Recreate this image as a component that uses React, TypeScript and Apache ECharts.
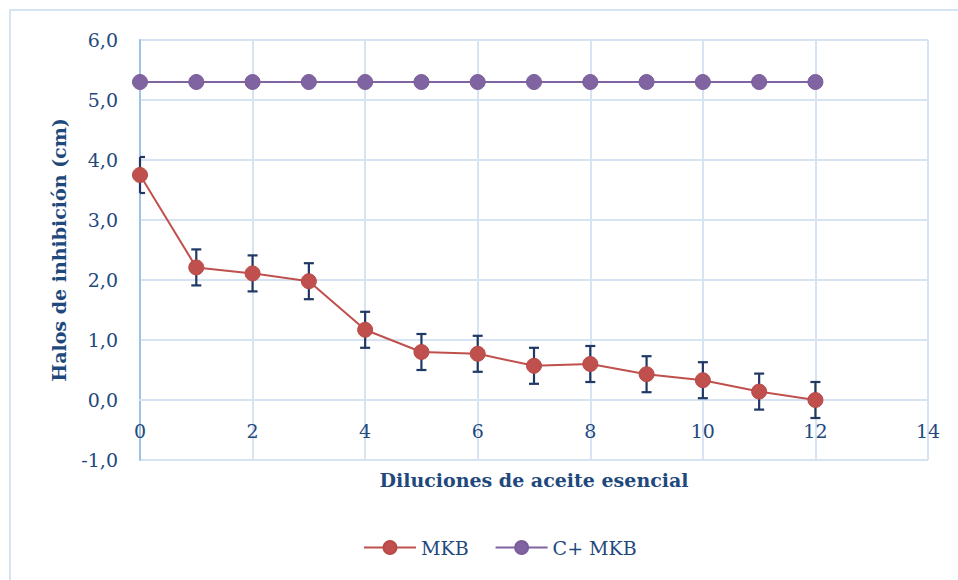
import React, { useEffect, useRef } from "react";
import * as echarts from "echarts";

const dilutions = [0, 1, 2, 3, 4, 5, 6, 7, 8, 9, 10, 11, 12];
const mkbValues = [3.75, 2.21, 2.11, 1.98, 1.17, 0.8, 0.77, 0.57, 0.6, 0.43, 0.33, 0.14, 0.0];
const mkbErrors = [0.3, 0.3, 0.3, 0.3, 0.3, 0.3, 0.3, 0.3, 0.3, 0.3, 0.3, 0.3, 0.3];
const controlValues = [5.3, 5.3, 5.3, 5.3, 5.3, 5.3, 5.3, 5.3, 5.3, 5.3, 5.3, 5.3, 5.3];
const seriesNames = ["MKB", "C+ MKB"];
const xAxisTitle = "Diluciones de aceite esencial";
const yAxisTitle = "Halos de inhibición (cm)";

const FONT = "'DejaVu Serif', 'Liberation Serif', serif";
const TEXT = "#1F497D";
const GRID = "#D6E3F3";

export default function App() {
  const ref = useRef<HTMLDivElement>(null);
  useEffect(() => {
    if (!ref.current) return;
    const chart = echarts.init(ref.current, undefined, { renderer: "svg" });
    const mkbData = dilutions.map((x, i) => [x, mkbValues[i]]);
    const ctrlData = dilutions.map((x, i) => [x, controlValues[i]]);
    const errData = dilutions.map((x, i) => [x, mkbValues[i] - mkbErrors[i], mkbValues[i] + mkbErrors[i]]);
    chart.setOption({
      animation: false,
      textStyle: { fontFamily: FONT },
      graphic: [
        {
          type: "rect",
          shape: { x: 10, y: 10, width: 1200, height: 1200 },
          style: { fill: "none", stroke: GRID, lineWidth: 2 },
          silent: true,
          z: -10,
        },
      ],
      grid: { left: 140, right: 30, top: 40, bottom: 120 },
      legend: {
        bottom: 18,
        left: 358,
        data: seriesNames,
        itemWidth: 52,
        itemHeight: 16,
        itemGap: 26,
        textStyle: { color: TEXT, fontSize: 19, fontFamily: FONT },
      },
      xAxis: {
        type: "value",
        min: 0,
        max: 14,
        interval: 2,
        position: "bottom",
        offset: -60,
        name: xAxisTitle,
        nameLocation: "middle",
        nameGap: 70,
        nameTextStyle: { color: TEXT, fontSize: 19, fontWeight: "bold", fontFamily: FONT },
        axisLine: { show: true, onZero: false, lineStyle: { color: GRID, width: 2 } },
        axisTick: { show: false },
        axisLabel: { color: TEXT, fontSize: 19, margin: 21, fontFamily: FONT },
        splitLine: { show: true, lineStyle: { color: GRID, width: 2 } },
      },
      yAxis: {
        type: "value",
        min: -1,
        max: 6,
        interval: 1,
        name: yAxisTitle,
        nameLocation: "middle",
        nameGap: 72,
        nameTextStyle: { color: TEXT, fontSize: 19, fontWeight: "bold", fontFamily: FONT },
        axisLine: { show: true, onZero: false, lineStyle: { color: "#9DC3E6", width: 2 } },
        axisTick: { show: false },
        axisLabel: {
          color: TEXT,
          fontSize: 19,
          margin: 22,
          fontFamily: FONT,
          formatter: (v: number) => v.toFixed(1).replace(".", ","),
        },
        splitLine: { show: true, lineStyle: { color: GRID, width: 2 } },
      },
      series: [
        {
          type: "custom",
          name: "errors",
          z: 1,
          data: errData,
          renderItem: (params: any, api: any) => {
            const x = api.value(0);
            const lo = api.coord([x, api.value(1)]);
            const hi = api.coord([x, api.value(2)]);
            const left = params.coordSys.x;
            const hw = 5;
            const style = { stroke: "#1F3864", lineWidth: 2.2 };
            const x1 = Math.max(hi[0] - hw, left);
            return {
              type: "group",
              children: [
                { type: "line", shape: { x1: lo[0], y1: lo[1], x2: hi[0], y2: hi[1] }, style },
                { type: "line", shape: { x1, y1: hi[1], x2: hi[0] + hw, y2: hi[1] }, style },
                { type: "line", shape: { x1, y1: lo[1], x2: lo[0] + hw, y2: lo[1] }, style },
              ],
            };
          },
        },
        {
          type: "line",
          name: seriesNames[0],
          z: 3,
          data: mkbData,
          symbol: "circle",
          symbolSize: 15,
          lineStyle: { color: "#C0504D", width: 2 },
          itemStyle: { color: "#C0504D", borderColor: "#B84A47", borderWidth: 1 },
        },
        {
          type: "line",
          name: seriesNames[1],
          z: 3,
          data: ctrlData,
          symbol: "circle",
          symbolSize: 15,
          lineStyle: { color: "#8064A2", width: 2 },
          itemStyle: { color: "#8064A2", borderColor: "#7A5E9B", borderWidth: 1 },
        },
      ],
    });
    return () => chart.dispose();
  }, []);
  return (
    <div
      ref={ref}
      style={{ position: "absolute", left: 0, top: 0, width: 958, height: 580, background: "#fff" }}
    />
  );
}
